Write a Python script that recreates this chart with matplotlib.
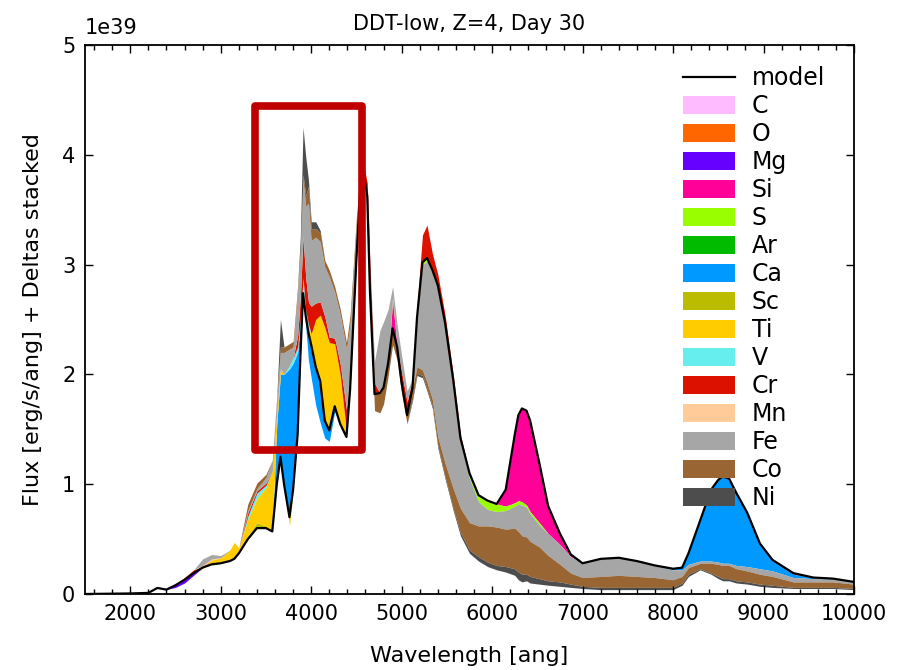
import numpy as np
import matplotlib.pyplot as plt
from matplotlib.patches import Patch, Rectangle
from matplotlib.lines import Line2D
from matplotlib.ticker import MultipleLocator, FuncFormatter

# wavelength grid [ang]
wave = np.array([
    1500, 2000, 2200, 2300, 2400, 2500, 2600, 2700, 2800, 2900,
    3000, 3100, 3150, 3200, 3300, 3400, 3500, 3570, 3620, 3660,
    3700, 3760, 3800, 3850, 3880, 3910, 3940, 3970, 4000, 4050,
    4100, 4150, 4200, 4260, 4320, 4390, 4430, 4500, 4560, 4620,
    4650, 4700, 4760, 4800, 4850, 4900, 4950, 5000, 5060, 5120,
    5170, 5230, 5280, 5340, 5400, 5480, 5570, 5650, 5750, 5850,
    5950, 6050, 6150, 6250, 6290, 6330, 6380, 6420, 6520, 6620,
    6750, 6870, 7000, 7200, 7400, 7600, 7800, 8000, 8100, 8170,
    8300, 8420, 8500, 8550, 8620, 8700, 8820, 8960, 9100, 9330,
    9550, 9770, 10000])

# model flux [1e39 erg/s/ang]
model = np.array([
    0.0, 0.005, 0.01, 0.055, 0.04, 0.08, 0.13, 0.19, 0.24, 0.27,
    0.28, 0.30, 0.32, 0.37, 0.50, 0.60, 0.60, 0.57, 1.00, 1.25,
    1.00, 0.70, 0.95, 1.45, 2.15, 2.74, 2.53, 2.38, 2.27, 2.07,
    1.94, 1.58, 1.49, 1.71, 1.55, 1.43, 1.86, 3.05, 3.95, 3.62,
    2.75, 1.82, 1.83, 1.88, 2.10, 2.42, 2.25, 1.92, 1.63, 1.88,
    2.52, 3.02, 3.06, 2.95, 2.81, 2.47, 1.95, 1.42, 1.10, 0.90,
    0.85, 0.82, 0.95, 1.45, 1.63, 1.69, 1.67, 1.58, 1.20, 0.80,
    0.55, 0.36, 0.28, 0.32, 0.33, 0.30, 0.26, 0.23, 0.24, 0.37,
    0.67, 0.95, 1.04, 1.07, 1.05, 0.92, 0.74, 0.46, 0.31, 0.19,
    0.15, 0.14, 0.11])

elements = ['C', 'O', 'Mg', 'Si', 'S', 'Ar', 'Ca', 'Sc', 'Ti', 'V',
            'Cr', 'Mn', 'Fe', 'Co', 'Ni']
colors = ['#ffbbff', '#ff6600', '#6600ff', '#ff0099', '#99ff00', '#00bb00',
          '#0099ff', '#bbbb00', '#ffcc00', '#66eeee', '#dd1100', '#ffcc99',
          '#a6a6a6', '#996633', '#4d4d4d']

# flux change per element at grid wavelengths, zero where not listed
delta_C = {}
delta_O = {}
delta_Mg = {2500: -0.02, 2600: -0.03, 2700: -0.02, 4260: 0.02}
delta_Si = {3910: 0.03, 4900: 0.25, 6150: -0.15, 6250: -0.62, 6290: -0.78,
            6330: -0.85, 6380: -0.86, 6420: -0.83, 6520: -0.55, 6620: -0.25,
            6750: -0.10, 6870: -0.02, 8700: -0.01, 8820: -0.01, 8960: -0.01,
            9100: -0.01, 9330: -0.01}
delta_S = {5230: -0.02, 5280: -0.03, 5340: -0.03, 5400: -0.03, 5480: -0.03,
           5570: -0.04, 5650: -0.04, 5750: -0.05, 5850: -0.06, 5950: -0.08,
           6050: -0.07, 6150: -0.04, 6250: -0.03, 6290: -0.03, 6330: -0.03,
           6380: -0.02, 6420: -0.02, 6520: -0.02}
delta_Ar = {}
delta_Ca = {3620: 0.55, 3660: 0.75, 3700: 1.0, 3760: 1.35, 3800: 1.15,
            3850: 0.75, 3880: 0.3, 3940: -0.1, 3970: -0.25, 4000: -0.3,
            4050: -0.35, 4100: -0.38, 4150: -0.16, 4200: -0.1, 4260: -0.05,
            8000: -0.01, 8100: -0.02, 8170: -0.1, 8300: -0.37, 8420: -0.65,
            8500: -0.75, 8550: -0.79, 8620: -0.77, 8700: -0.65, 8820: -0.48,
            8960: -0.22, 9100: -0.09, 9330: -0.03, 9550: -0.01}
delta_Sc = {3300: 0.03, 3400: 0.05, 3500: 0.02}
delta_Ti = {2900: 0.04, 3000: 0.05, 3100: 0.1, 3150: 0.15, 3200: 0.05,
            3300: 0.15, 3400: 0.22, 3500: 0.35, 3570: 0.55, 3620: 0.1,
            3660: 0.05, 3760: -0.08, 3910: 0.03, 3970: 0.05, 4000: 0.1,
            4050: 0.43, 4100: 0.6, 4150: 0.85, 4200: 0.8, 4260: 0.55,
            4320: 0.45, 4390: 0.05, 4900: 0.03}
delta_V = {3300: 0.03, 3400: 0.05, 3500: 0.02, 3760: 0.03, 3800: 0.05,
           3850: 0.05, 3880: 0.05, 3910: 0.08, 3940: 0.05, 3970: 0.03}
delta_Cr = {2600: 0.02, 2700: 0.03, 2800: 0.01, 3300: 0.03, 3400: 0.02,
            3500: 0.02, 3850: 0.1, 3880: 0.2, 3910: 0.37, 3940: 0.3,
            3970: 0.2, 4000: 0.25, 4050: 0.15, 4100: 0.12, 4150: 0.1,
            4200: 0.05, 4260: 0.05, 4320: 0.1, 4390: 0.2, 4430: 0.1,
            4560: 0.05, 4620: 0.12, 4650: 0.25, 4700: 0.1, 5000: 0.1,
            5060: 0.12, 5120: 0.08, 5170: 0.1, 5230: 0.25, 5280: 0.3,
            5340: 0.15, 5400: 0.1, 5480: 0.07, 5570: 0.05, 5650: 0.03}
delta_Mn = {2800: 0.01, 2900: 0.01}
delta_Fe = {2800: 0.06, 2900: 0.04, 3000: 0.02, 3300: 0.02, 3400: 0.02,
            3500: 0.05, 3570: 0.1, 3620: 0.12, 3660: 0.15, 3700: 0.2,
            3760: 0.15, 3800: 0.1, 3850: 0.4, 3880: 0.4, 3910: 0.52,
            3940: 0.65, 3970: 0.9, 4000: 0.6, 4050: 0.6, 4100: 0.55,
            4150: 0.45, 4200: 0.55, 4260: 0.42, 4320: 0.45, 4390: 0.55,
            4430: 0.5, 4500: 0.3, 4700: 0.2, 4760: 0.57, 4800: 0.6,
            4850: 0.49, 4900: 0.1, 4950: 0.2, 5000: 0.15, 5060: 0.1,
            5170: -0.45, 5230: -0.96, 5280: -1.1, 5340: -1.15, 5400: -1.35,
            5480: -1.25, 5570: -0.95, 5650: -0.6, 5750: -0.4, 5850: -0.22,
            5950: -0.15, 6050: -0.14, 6150: -0.17, 6250: -0.2, 6290: -0.25,
            6330: -0.28, 6380: -0.27, 6420: -0.25, 6520: -0.2, 6620: -0.2,
            6750: -0.18, 6870: -0.15, 7000: -0.13, 7200: -0.16, 7400: -0.16,
            7600: -0.14, 7800: -0.11, 8000: -0.09, 8100: -0.06, 8170: -0.03,
            8300: -0.02, 8420: -0.02, 8500: -0.02, 8550: -0.02, 8620: -0.02,
            8700: -0.03, 8820: -0.04, 8960: -0.05, 9100: -0.05, 9330: -0.04,
            9550: -0.03, 9770: -0.03, 10000: -0.02}
delta_Co = {3300: 0.06, 3400: 0.05, 3500: 0.03, 3620: 0.03, 3660: 0.05,
            3700: 0.05, 3760: 0.05, 3800: 0.05, 3850: 0.05, 3880: 0.05,
            3910: 0.05, 3940: 0.1, 3970: 0.15, 4000: 0.1, 4050: 0.08,
            4100: 0.08, 4150: 0.06, 4200: 0.06, 4260: 0.05, 4320: 0.05,
            4390: 0.06, 4430: 0.08, 4500: 0.08, 4700: -0.15, 4760: -0.18,
            4800: -0.15, 4850: -0.12, 4900: -0.15, 4950: -0.12, 5000: -0.1,
            5060: -0.08, 5120: -0.1, 5170: -0.06, 5230: -0.05, 5280: -0.06,
            5340: -0.06, 5400: -0.08, 5480: -0.12, 5570: -0.18, 5650: -0.22,
            5750: -0.25, 5850: -0.28, 5950: -0.33, 6050: -0.35, 6150: -0.34,
            6250: -0.37, 6290: -0.37, 6330: -0.35, 6380: -0.34, 6420: -0.32,
            6520: -0.29, 6620: -0.23, 6750: -0.16, 6870: -0.10, 7000: -0.08,
            7200: -0.10, 7400: -0.11, 7600: -0.10, 7800: -0.09, 8000: -0.07,
            8100: -0.06, 8170: -0.06, 8300: -0.05, 8420: -0.09, 8500: -0.11,
            8550: -0.12, 8620: -0.12, 8700: -0.11, 8820: -0.10, 8960: -0.09,
            9100: -0.08, 9330: -0.05, 9550: -0.05, 9770: -0.05, 10000: -0.04}
delta_Ni = {3660: 0.25, 3880: 0.1, 3910: 0.43, 3940: 0.35, 3970: 0.06,
            4000: 0.07, 4050: 0.06, 4100: 0.02, 5120: -0.02, 5170: -0.02,
            5230: -0.02, 5280: -0.02, 5340: -0.02, 5400: -0.02, 5480: -0.02,
            5570: -0.02, 5650: -0.03, 5750: -0.03, 5850: -0.04, 5950: -0.04,
            6050: -0.04, 6150: -0.05, 6250: -0.06, 6290: -0.07, 6330: -0.07,
            6380: -0.06, 6420: -0.06, 6520: -0.05, 6620: -0.04, 6750: -0.04,
            6870: -0.03, 7000: -0.02, 7200: -0.02, 7400: -0.02, 7600: -0.02,
            7800: -0.02, 8000: -0.02, 8100: -0.02, 8170: -0.02, 8300: -0.01,
            8420: -0.01, 8500: -0.02, 8550: -0.02, 8620: -0.02, 8700: -0.02,
            8820: -0.02, 8960: -0.02, 9100: -0.02, 9330: -0.01, 9550: -0.01,
            9770: -0.01, 10000: -0.01}

deltas = [delta_C, delta_O, delta_Mg, delta_Si, delta_S, delta_Ar, delta_Ca,
          delta_Sc, delta_Ti, delta_V, delta_Cr, delta_Mn, delta_Fe,
          delta_Co, delta_Ni]

scale = 1e39

plt.rcParams['font.family'] = 'DejaVu Sans'
fig = plt.figure(figsize=(9.04, 6.70), dpi=100)
ax = fig.add_axes([85 / 904, 76 / 670, 769 / 904, 549 / 670])

# positive deltas stack upward from the model, negative ones downward
up = model.copy()
down = model.copy()
for col, d in zip(colors, deltas):
    vals = np.array([d.get(int(w), 0.0) for w in wave])
    pos = np.clip(vals, 0, None)
    neg = np.clip(vals, None, 0)
    ax.fill_between(wave, up * scale, (up + pos) * scale, color=col, lw=0)
    ax.fill_between(wave, (down + neg) * scale, down * scale, color=col, lw=0)
    up = up + pos
    down = down + neg

ax.plot(wave, model * scale, color='k', lw=1.6)

ax.add_patch(Rectangle((3380, 1.31 * scale), 1180, 3.13 * scale, fill=False,
                       edgecolor='#c00000', lw=5.5, joinstyle='round',
                       zorder=5))

ax.set_xlim(1500, 10000)
ax.set_ylim(0, 5 * scale)
ax.xaxis.set_major_locator(MultipleLocator(1000))
ax.xaxis.set_minor_locator(MultipleLocator(200))
ax.yaxis.set_major_locator(MultipleLocator(1 * scale))
ax.yaxis.set_major_formatter(FuncFormatter(lambda v, p: '%g' % (v / scale)))
ax.text(0.0, 1.012, '1e39', transform=ax.transAxes, fontsize=15,
        va='bottom', ha='left')
ax.tick_params(which='both', direction='in', top=True, right=True,
               labelsize=15, width=1)
ax.tick_params(which='major', length=6, pad=7)
ax.tick_params(which='minor', length=3.5)
for sp in ax.spines.values():
    sp.set_linewidth(1.3)

ax.set_title('DDT-low, Z=4, Day 30', fontsize=15, pad=11)
ax.set_xlabel('Wavelength [ang]', fontsize=16, labelpad=16)
ax.set_ylabel('Flux [erg/s/ang] + Deltas stacked', fontsize=16, labelpad=14)

handles = [Line2D([], [], color='k', lw=1.6)]
handles += [Patch(facecolor=c, edgecolor='none') for c in colors]
ax.legend(handles, ['model'] + elements, loc='upper right',
          bbox_to_anchor=(0.99, 1.0), frameon=False, fontsize=17,
          handlelength=2.2, handleheight=0.78, labelspacing=0.17,
          handletextpad=0.7)

fig.savefig('out.png', dpi=100)
